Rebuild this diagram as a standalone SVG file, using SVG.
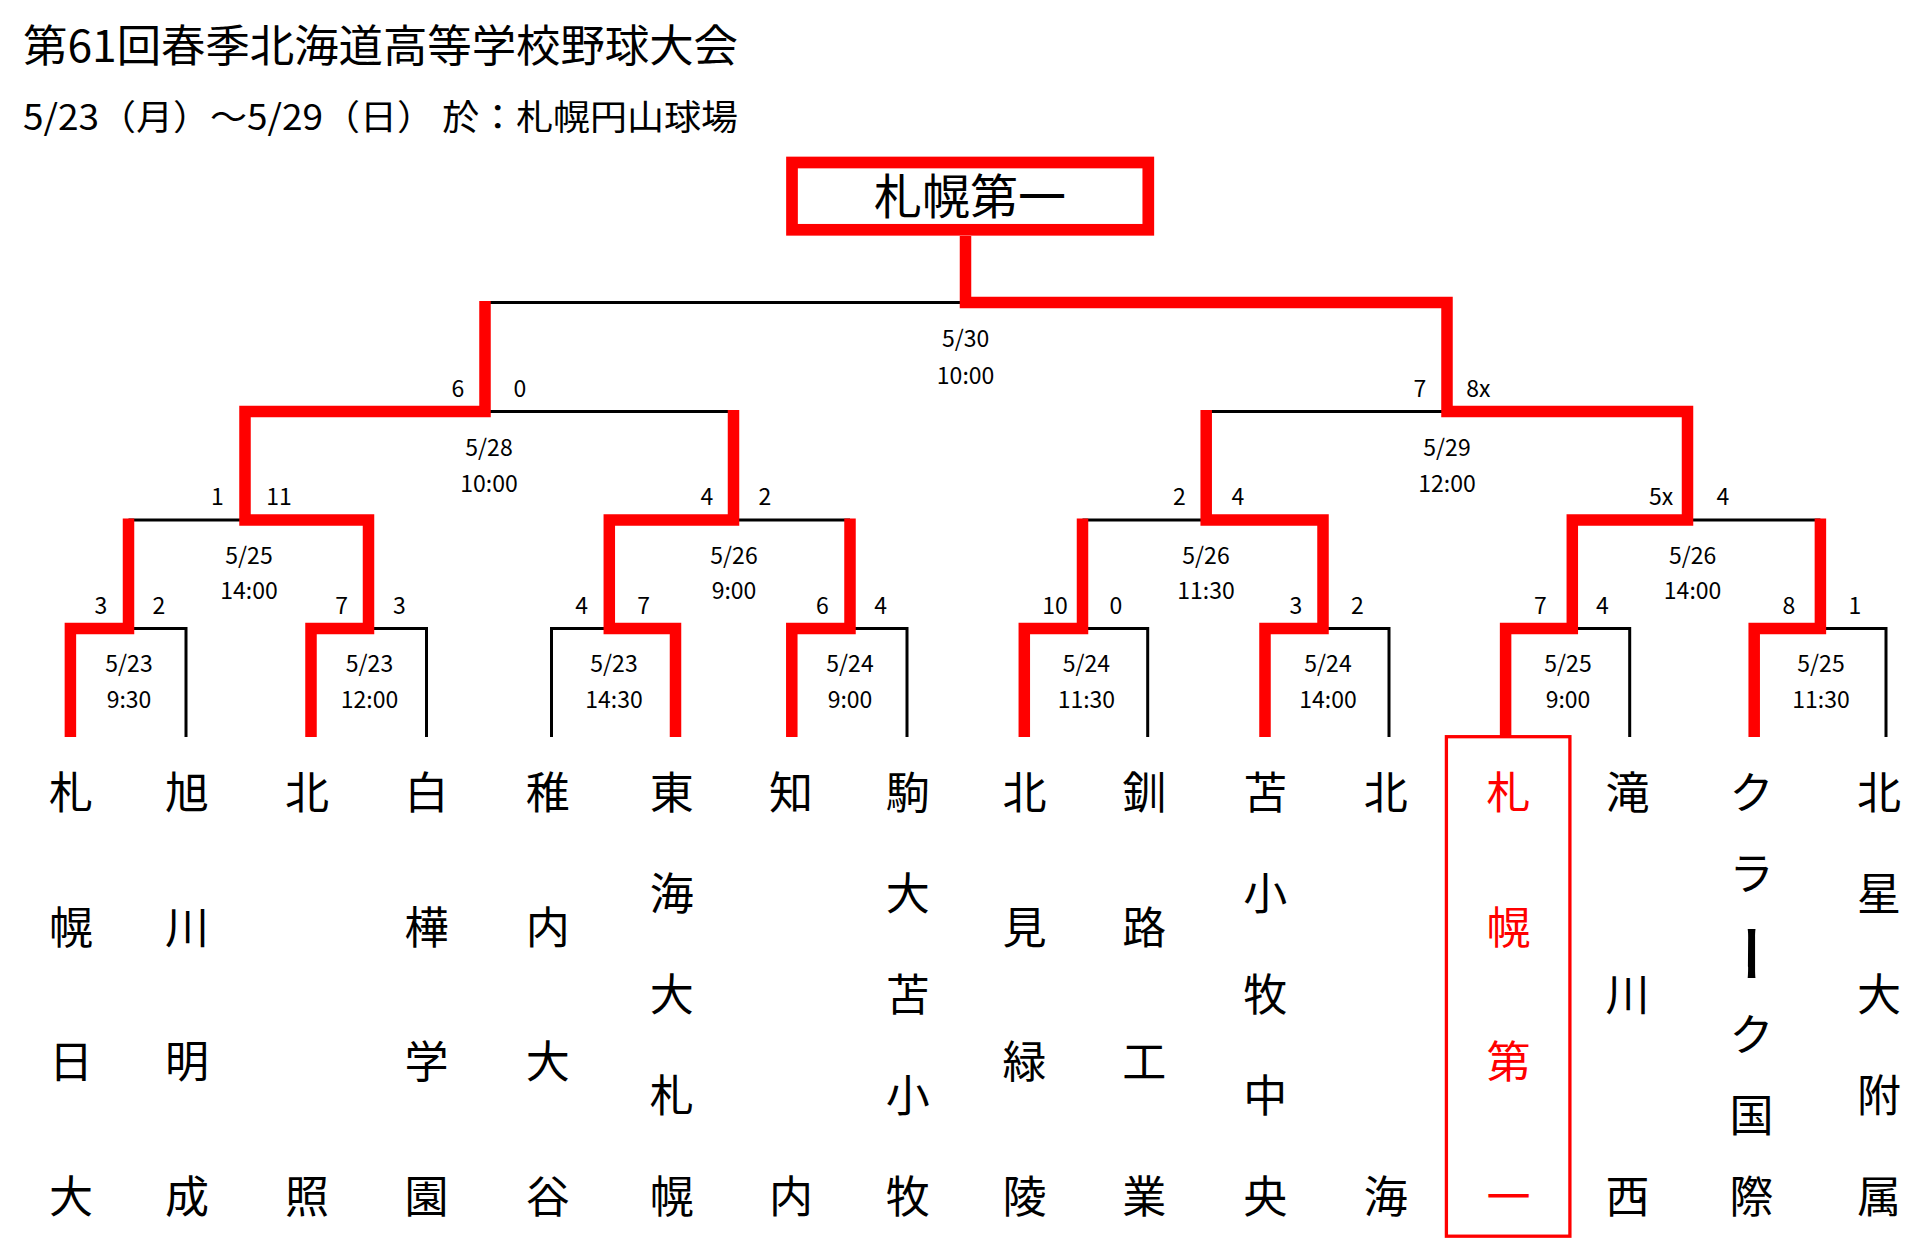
<svg xmlns="http://www.w3.org/2000/svg" width="1919" height="1239" viewBox="0 0 1919 1239">
<style>
text { font-family: "Noto Sans CJK JP", "Noto Sans", sans-serif; fill: #000; }
.nm { font-size: 44px; text-anchor: middle; }
.nmr { font-size: 44px; text-anchor: middle; fill: #ff0000; }
.sc { font-size: 23px; text-anchor: middle; }
.dt { font-size: 23px; text-anchor: middle; }
.red { stroke: #ff0000; stroke-width: 11.5; fill: none; stroke-linejoin: miter; stroke-linecap: butt; }
.blk { stroke: #000; stroke-width: 3; fill: none; stroke-linejoin: miter; }
.vt { writing-mode: vertical-rl; }
</style>
<rect width="1919" height="1239" fill="#fff"/>
<g id="title">
<text x="23" y="62" font-size="44" textLength="715" lengthAdjust="spacingAndGlyphs">第61回春季北海道高等学校野球大会</text>
<text x="23" y="130" font-size="35" textLength="715" lengthAdjust="spacingAndGlyphs">5/23（月）～5/29（日） 於：札幌円山球場</text>
</g>
<g id="connectors">
<g id="black-lines">
<polyline class="blk" points="186,737 186,628.5 128.5,628.5"/>
<polyline class="blk" points="426.5,737 426.5,628.5 368.5,628.5"/>
<polyline class="blk" points="551.5,737 551.5,628.5 609.3,628.5"/>
<polyline class="blk" points="907,737 907,628.5 850,628.5"/>
<polyline class="blk" points="1147.7,737 1147.7,628.5 1082.5,628.5"/>
<polyline class="blk" points="1389,737 1389,628.5 1323,628.5"/>
<polyline class="blk" points="1629.7,737 1629.7,628.5 1572.3,628.5"/>
<polyline class="blk" points="1886,737 1886,628.5 1820.4,628.5"/>
<line class="blk" x1="128.5" y1="520" x2="245" y2="520"/>
<line class="blk" x1="733.5" y1="520" x2="850" y2="520"/>
<line class="blk" x1="1082.5" y1="520" x2="1206.2" y2="520"/>
<line class="blk" x1="1687.5" y1="520" x2="1820.4" y2="520"/>
<line class="blk" x1="485" y1="411.5" x2="733.5" y2="411.5"/>
<line class="blk" x1="1206.2" y1="411.5" x2="1447" y2="411.5"/>
<line class="blk" x1="485" y1="302.5" x2="965.5" y2="302.5"/>
</g>
<g id="red-lines">
<polyline class="red" points="70.4,737 70.4,628.5 128.5,628.5 128.5,518.5"/>
<polyline class="red" points="311,737 311,628.5 368.5,628.5 368.5,520 245,520 245,411.5 485,411.5 485,301"/>
<polyline class="red" points="675.5,737 675.5,628.5 609.3,628.5 609.3,520 733.5,520 733.5,410"/>
<polyline class="red" points="791.8,737 791.8,628.5 850,628.5 850,518.5"/>
<polyline class="red" points="1024.3,737 1024.3,628.5 1082.5,628.5 1082.5,518.5"/>
<polyline class="red" points="1265,737 1265,628.5 1323,628.5 1323,520 1206.2,520 1206.2,410"/>
<polyline class="red" points="1505.6,737 1505.6,628.5 1572.3,628.5 1572.3,520 1687.5,520 1687.5,411.5 1447,411.5 1447,302.5 965.5,302.5 965.5,236"/>
<polyline class="red" points="1754.2,737 1754.2,628.5 1820.4,628.5 1820.4,518.5"/>
</g>
</g>
<g id="champion">
<rect x="792" y="162.5" width="356.3" height="67.3" fill="none" stroke="#ff0000" stroke-width="11.7"/>
<text x="970" y="214" font-size="48" text-anchor="middle">札幌第一</text>
</g>
<g id="scores">
<text class="sc" x="101" y="614">3</text><text class="sc" x="159" y="614">2</text>
<text class="sc" x="341.7" y="614">7</text><text class="sc" x="399.5" y="614">3</text>
<text class="sc" x="581.7" y="614">4</text><text class="sc" x="643.6" y="614">7</text>
<text class="sc" x="822.4" y="614">6</text><text class="sc" x="880.6" y="614">4</text>
<text class="sc" x="1055" y="614">10</text><text class="sc" x="1116" y="614">0</text>
<text class="sc" x="1296" y="614">3</text><text class="sc" x="1357.5" y="614">2</text>
<text class="sc" x="1540.5" y="614">7</text><text class="sc" x="1602.4" y="614">4</text>
<text class="sc" x="1789" y="614">8</text><text class="sc" x="1855" y="614">1</text>
<text class="sc" x="217.5" y="505">1</text><text class="sc" x="279" y="505">11</text>
<text class="sc" x="707" y="505">4</text><text class="sc" x="765" y="505">2</text>
<text class="sc" x="1179.5" y="505">2</text><text class="sc" x="1238" y="505">4</text>
<text class="sc" x="1661" y="505">5x</text><text class="sc" x="1723" y="505">4</text>
<text class="sc" x="457.8" y="397">6</text><text class="sc" x="520" y="397">0</text>
<text class="sc" x="1420" y="397">7</text><text class="sc" x="1478.4" y="397">8x</text>
</g>
<g id="dates">
<text class="dt" x="129" y="672">5/23</text><text class="dt" x="129" y="708">9:30</text>
<text class="dt" x="369.5" y="672">5/23</text><text class="dt" x="369.5" y="708">12:00</text>
<text class="dt" x="614" y="672">5/23</text><text class="dt" x="614" y="708">14:30</text>
<text class="dt" x="850" y="672">5/24</text><text class="dt" x="850" y="708">9:00</text>
<text class="dt" x="1086.4" y="672">5/24</text><text class="dt" x="1086.4" y="708">11:30</text>
<text class="dt" x="1328" y="672">5/24</text><text class="dt" x="1328" y="708">14:00</text>
<text class="dt" x="1568" y="672">5/25</text><text class="dt" x="1568" y="708">9:00</text>
<text class="dt" x="1821" y="672">5/25</text><text class="dt" x="1821" y="708">11:30</text>
<text class="dt" x="249" y="563.5">5/25</text><text class="dt" x="249" y="599">14:00</text>
<text class="dt" x="734" y="563.5">5/26</text><text class="dt" x="734" y="599">9:00</text>
<text class="dt" x="1206" y="563.5">5/26</text><text class="dt" x="1206" y="599">11:30</text>
<text class="dt" x="1692.6" y="563.5">5/26</text><text class="dt" x="1692.6" y="599">14:00</text>
<text class="dt" x="489" y="455.5">5/28</text><text class="dt" x="489" y="491.5">10:00</text>
<text class="dt" x="1447" y="455.5">5/29</text><text class="dt" x="1447" y="491.5">12:00</text>
<text class="dt" x="965.6" y="346.5">5/30</text><text class="dt" x="965.6" y="383.5">10:00</text>
</g>
<g id="team-01"><text class="nm" x="71" y="809">札</text><text class="nm" x="71" y="943.7">幌</text><text class="nm" x="71" y="1078.3">日</text><text class="nm" x="71" y="1213">大</text></g>
<g id="team-02"><text class="nm" x="187" y="809">旭</text><text class="nm" x="187" y="943.7">川</text><text class="nm" x="187" y="1078.3">明</text><text class="nm" x="187" y="1213">成</text></g>
<g id="team-03"><text class="nm" x="307" y="809">北</text><text class="nm" x="307" y="1213">照</text></g>
<g id="team-04"><text class="nm" x="426.5" y="809">白</text><text class="nm" x="426.5" y="943.7">樺</text><text class="nm" x="426.5" y="1078.3">学</text><text class="nm" x="426.5" y="1213">園</text></g>
<g id="team-05"><text class="nm" x="547.7" y="809">稚</text><text class="nm" x="547.7" y="943.7">内</text><text class="nm" x="547.7" y="1078.3">大</text><text class="nm" x="547.7" y="1213">谷</text></g>
<g id="team-06"><text class="nm" x="671.7" y="809">東</text><text class="nm" x="671.7" y="910">海</text><text class="nm" x="671.7" y="1011">大</text><text class="nm" x="671.7" y="1112">札</text><text class="nm" x="671.7" y="1213">幌</text></g>
<g id="team-07"><text class="nm" x="791" y="809">知</text><text class="nm" x="791" y="1213">内</text></g>
<g id="team-08"><text class="nm" x="907.8" y="809">駒</text><text class="nm" x="907.8" y="910">大</text><text class="nm" x="907.8" y="1011">苫</text><text class="nm" x="907.8" y="1112">小</text><text class="nm" x="907.8" y="1213">牧</text></g>
<g id="team-09"><text class="nm" x="1024.4" y="809">北</text><text class="nm" x="1024.4" y="943.7">見</text><text class="nm" x="1024.4" y="1078.3">緑</text><text class="nm" x="1024.4" y="1213">陵</text></g>
<g id="team-10"><text class="nm" x="1144.2" y="809">釧</text><text class="nm" x="1144.2" y="943.7">路</text><text class="nm" x="1144.2" y="1078.3">工</text><text class="nm" x="1144.2" y="1213">業</text></g>
<g id="team-11"><text class="nm" x="1265.2" y="809">苫</text><text class="nm" x="1265.2" y="910">小</text><text class="nm" x="1265.2" y="1011">牧</text><text class="nm" x="1265.2" y="1112">中</text><text class="nm" x="1265.2" y="1213">央</text></g>
<g id="team-12"><text class="nm" x="1385.7" y="809">北</text><text class="nm" x="1385.7" y="1213">海</text></g>
<g id="team-13">
<rect x="1446.4" y="736.7" width="123.5" height="499.5" fill="none" stroke="#ff0000" stroke-width="3.3"/>
<text class="nmr" x="1508.5" y="809">札</text><text class="nmr" x="1508.5" y="943.7">幌</text><text class="nmr" x="1508.5" y="1078.3">第</text><text class="nmr" x="1508.5" y="1213">一</text>
</g>
<g id="team-14"><text class="nm" x="1627.6" y="809">滝</text><text class="nm" x="1627.6" y="1011">川</text><text class="nm" x="1627.6" y="1213">西</text></g>
<g id="team-15"><text class="nm" x="1751.5" y="809">ク</text><text class="nm" x="1751.5" y="889.8">ラ</text><text class="nm vt" x="0" y="0" font-weight="bold" transform="translate(1752,954.6) scale(1.15,1.4)">ー</text><text class="nm" x="1751.5" y="1051.4">ク</text><text class="nm" x="1751.5" y="1132.2">国</text><text class="nm" x="1751.5" y="1213">際</text></g>
<g id="team-16"><text class="nm" x="1879" y="809">北</text><text class="nm" x="1879" y="910">星</text><text class="nm" x="1879" y="1011">大</text><text class="nm" x="1879" y="1112">附</text><text class="nm" x="1879" y="1213">属</text></g>
</svg>
